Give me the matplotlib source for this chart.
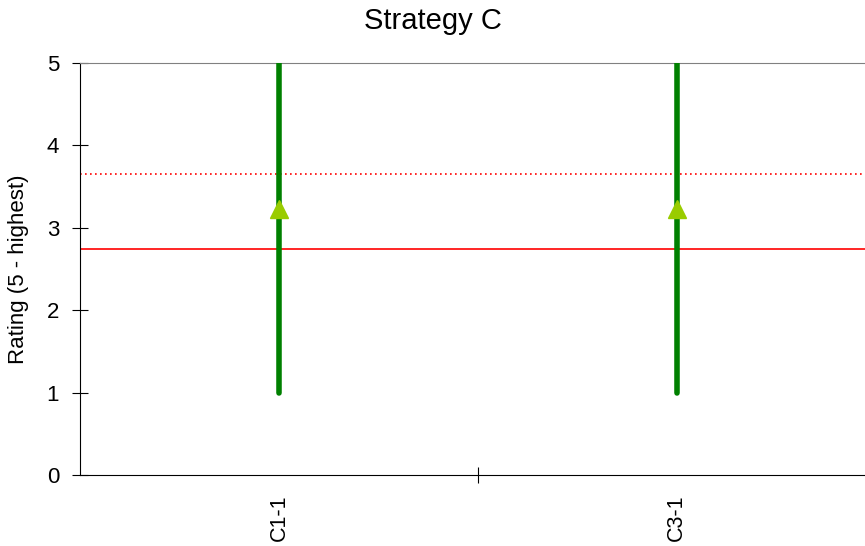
import matplotlib
matplotlib.use("Agg")
import matplotlib.pyplot as plt

plt.rcParams['font.family'] = ['Liberation Sans', 'DejaVu Sans']

# data
categories = ['C1-1', 'C3-1']
low = [1, 1]
high = [5, 5]
mean = [3.23, 3.23]
ref_solid = 2.74
ref_dotted = 3.65

fig = plt.figure(figsize=(8.65, 5.46), dpi=100)
ax = fig.add_axes([0.0925, 0.130, 0.920, 0.7546])

x = [0.5, 1.5]
ax.vlines(x, low, high, color='#008000', linewidth=4, capstyle='round', zorder=3)
ax.plot(x, mean, linestyle='none', marker='^', markersize=13,
        color='#99CC00', zorder=4)

# reference lines
ax.axhline(ref_solid, color='#FF0000', linewidth=1.2, zorder=2)
ax.axhline(ref_dotted, color='#FF0000', linewidth=1.2, linestyle=(0, (1, 2)), zorder=2)

ax.set_xlim(0, 2)
ax.set_ylim(0, 5)
ax.set_yticks([0, 1, 2, 3, 4, 5])
ax.set_xticks([1])
ax.set_xticklabels([])
ax.set_xticks(x, minor=True)
ax.set_xticklabels(categories, minor=True, rotation=90)
ax.tick_params(axis='x', which='minor', length=0, pad=14, labelsize=15.5)
ax.tick_params(axis='x', which='major', direction='inout', length=12)
ax.tick_params(axis='y', direction='inout', length=12, labelsize=16, pad=9)

ax.spines['right'].set_visible(False)
ax.spines['top'].set_color('#808080')
ax.set_ylabel('Rating (5 - highest)', fontsize=16, labelpad=13)
fig.text(0.5, 1 - 21 / 546, 'Strategy C', fontsize=21, ha='center', va='center')

fig.savefig('out.png', dpi=100)
